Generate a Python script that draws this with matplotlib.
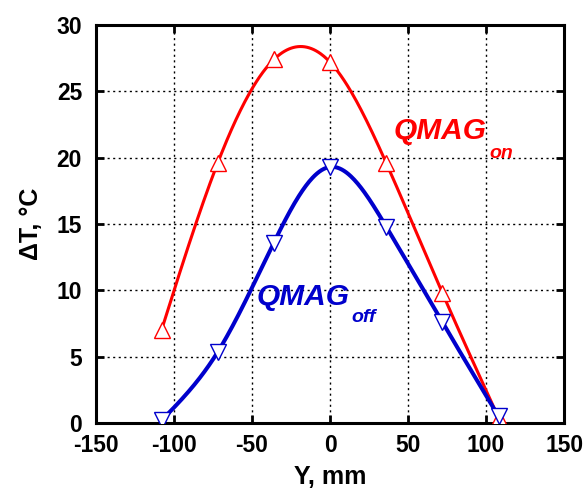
import matplotlib
matplotlib.use('Agg')
import matplotlib.pyplot as plt
import numpy as np

plt.rcParams['font.family'] = ['Liberation Sans', 'DejaVu Sans']
plt.rcParams['axes.unicode_minus'] = False

# Measured points (Y, mm) and temperature rise
y_pos = [-108, -72, -36, 0, 36, 72, 108]
dT_on = [7.0, 19.6, 27.4, 27.2, 19.6, 9.8, 0.4]
dT_off = [0.2, 5.35, 13.6, 19.3, 14.8, 7.6, 0.5]

x_ticks = [-150, -100, -50, 0, 50, 100, 150]
y_ticks = [0, 5, 10, 15, 20, 25, 30]


def smooth_curve(x, y, n=300):
    # natural cubic spline through the points, only for drawing the line
    x = np.asarray(x, float)
    y = np.asarray(y, float)
    k = len(x)
    h = np.diff(x)
    A = np.zeros((k, k))
    r = np.zeros(k)
    A[0, 0] = A[-1, -1] = 1
    for i in range(1, k - 1):
        A[i, i - 1] = h[i - 1]
        A[i, i] = 2 * (h[i - 1] + h[i])
        A[i, i + 1] = h[i]
        r[i] = 6 * ((y[i + 1] - y[i]) / h[i] - (y[i] - y[i - 1]) / h[i - 1])
    m = np.linalg.solve(A, r)
    xs = np.linspace(x[0], x[-1], n)
    j = np.clip(np.searchsorted(x, xs) - 1, 0, k - 2)
    t0 = x[j + 1] - xs
    t1 = xs - x[j]
    hj = h[j]
    ys = (m[j] * t0**3 + m[j + 1] * t1**3) / (6 * hj) \
        + (y[j] / hj - m[j] * hj / 6) * t0 + (y[j + 1] / hj - m[j + 1] * hj / 6) * t1
    return xs, ys


fig = plt.figure(figsize=(5.87, 4.92), dpi=100)
ax = fig.add_axes([0.1635, 0.1402, 0.7975, 0.809])

red = '#FF0000'
blue = '#0000CC'

xs, ys = smooth_curve(y_pos, dT_on)
ax.plot(xs, ys, color=red, lw=2.2, zorder=3)
xs, ys = smooth_curve(y_pos, dT_off)
ax.plot(xs, ys, color=blue, lw=2.9, zorder=3)

ax.plot(y_pos, dT_on, ls='none', marker='^', ms=11.5, mfc='white', mec=red, mew=1.0, zorder=4)
ax.plot(y_pos, dT_off, ls='none', marker='v', ms=11.5, mfc='white', mec=blue, mew=1.0, zorder=4)

ax.set_xlim(-150, 150)
ax.set_ylim(0, 30)
ax.set_xticks(x_ticks)
ax.set_yticks(y_ticks)
ax.grid(True, color='black', ls=(0, (1.5, 2.5)), lw=1.0)
ax.set_axisbelow(True)

ax.tick_params(direction='in', length=6, width=2, top=True, right=True,
               labelsize=16.5)
ax.tick_params(axis='y', pad=10)
ax.tick_params(axis='x', pad=8)
for lab in ax.get_xticklabels() + ax.get_yticklabels():
    lab.set_fontweight('bold')
for s in ax.spines.values():
    s.set_linewidth(2.2)

ax.set_xlabel('Y, mm', fontsize=18, fontweight='bold', labelpad=6)
ax.set_ylabel('ΔT, °C', fontsize=18, fontweight='bold', labelpad=10)

ax.text(41, 21.4, 'QMAG', color=red, fontsize=21.5, fontweight='bold', style='italic', va='baseline')
ax.text(102, 20.0, 'on', color=red, fontsize=14, fontweight='bold', style='italic', va='baseline')
ax.text(-47, 8.9, 'QMAG', color=blue, fontsize=21.5, fontweight='bold', style='italic', va='baseline')
ax.text(14, 7.6, 'off', color=blue, fontsize=14, fontweight='bold', style='italic', va='baseline')

fig.savefig('out.png', dpi=100)
